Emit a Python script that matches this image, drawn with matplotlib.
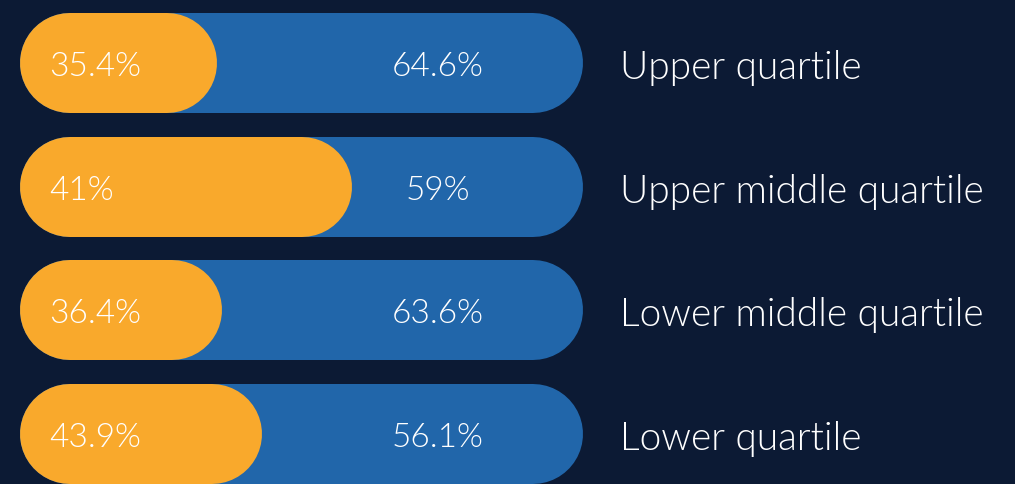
import matplotlib
matplotlib.use("Agg")
import matplotlib.pyplot as plt

# data
groups = ["Upper quartile", "Upper middle quartile", "Lower middle quartile", "Lower quartile"]
women = [35.4, 41, 36.4, 43.9]
men = [64.6, 59, 63.6, 56.1]
# orange bar lengths as drawn in the picture (row 2 is drawn longer than its label)
orange_len = [35.0, 59.0, 35.9, 43.0]

bg = "#0c1a34"
blue = "#2166aa"
orange = "#f9a92c"

W, H = 1015, 484
fig = plt.figure(figsize=(W / 100, H / 100), dpi=100, facecolor=bg)
ax = fig.add_axes([0, 0, 1, 1])
ax.set_facecolor(bg)
ax.axis("off")

pxx = 5.63      # pixels per percent
pxy = 123.7     # pixels per row
x0, y0 = 20, 63
ax.set_xlim(-x0 / pxx, (W - x0) / pxx)
ax.set_ylim((H - y0) / pxy, -y0 / pxy)

r = 50 / pxx        # pill end radius in percent units
lw = 100 * 72 / 100  # 100 px thick line in points

plt.rcParams["font.family"] = ["Lato", "DejaVu Sans"]

for i, g in enumerate(groups):
    total = women[i] + men[i]
    ax.plot([r, total - r], [i, i], color=blue, lw=lw, solid_capstyle="round")
    ax.plot([r, orange_len[i] - r], [i, i], color=orange, lw=lw, solid_capstyle="round")
    base = i + 13 / pxy
    ax.text(5.2, base, f"{women[i]:g}%", color="white", fontsize=24,
            fontweight=300, va="baseline", ha="left")
    ax.text(74.2, base, f"{men[i]:g}%", color="white", fontsize=24,
            fontweight=300, va="baseline", ha="center")
    ax.text(106.6, i + 16 / pxy, g, color="white", fontsize=28, fontweight=300,
            va="baseline", ha="left")

plt.savefig("out.png", dpi=100, facecolor=bg)
